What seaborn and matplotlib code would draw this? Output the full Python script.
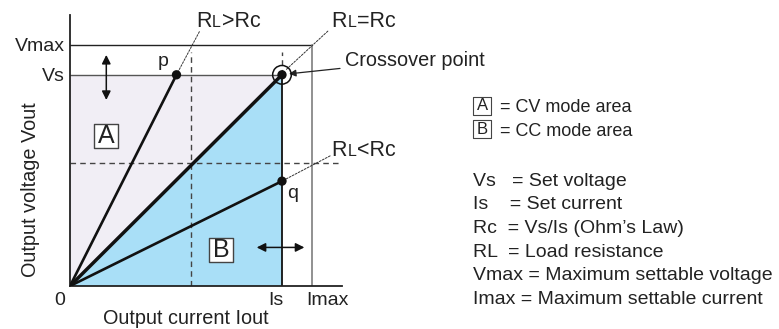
import matplotlib

matplotlib.use("Agg")
import matplotlib.pyplot as plt
import matplotlib.transforms as mtrans
import numpy as np
import pandas as pd
import seaborn as sns

# operating limits (normalised so that Imax = Vmax = 1)
i_max = 1.0
v_max = 1.0
i_set = 0.876
v_set = 0.876
i_half = 0.5
v_half = 0.51

# load lines from the origin
load_names = ["RL>Rc", "RL=Rc", "RL<Rc"]
load_end_i = [0.44, 0.876, 0.876]
load_end_v = [0.876, 0.876, 0.435]

legend_lines = [
    "Vs   = Set voltage",
    "Is    = Set current",
    "Rc  = Vs/Is (Ohm\u2019s Law)",
    "RL  = Load resistance",
    "Vmax = Maximum settable voltage",
    "Imax = Maximum settable current",
]

sns.set_theme(style="white")
plt.rcParams["font.family"] = ["Liberation Sans", "DejaVu Sans"]

TXT = "#222222"
fig = plt.figure(figsize=(7.79, 3.29), dpi=100)
ax = fig.add_axes([70 / 779, 43 / 329, 272 / 779, 271 / 329])
ax.set_xlim(0, 1.124)
ax.set_ylim(0, 1.124)

# mode areas
ax.fill([0, 0, i_set], [0, v_set, v_set], color="#f1eef5", lw=0, zorder=0)
ax.fill([0, i_set, i_set], [0, v_set, 0], color="#a9dff7", lw=0, zorder=0)

# limit lines
ax.plot([0, i_max], [v_max, v_max], color="#222222", lw=1.0)
ax.plot([i_max, i_max], [0, v_max], color="#888888", lw=1.3)
ax.plot([0, i_set], [v_set, v_set], color="#555555", lw=1.0)
ax.plot([i_set, i_set], [0, v_set], color="#111111", lw=1.3)

# dashed guides
ax.plot([i_half, i_half], [0, 0.97], color="#444444", lw=1.0, ls=(0, (4, 3)))
ax.plot([i_set, i_set], [v_set, 0.97], color="#444444", lw=1.0, ls=(0, (4, 3)))
ax.plot([0, 1.124], [v_half, v_half], color="#444444", lw=1.0, ls=(0, (4, 3)))

# load lines
rows = []
for name, ei, ev in zip(load_names, load_end_i, load_end_v):
    rows.append({"load": name, "I": 0.0, "V": 0.0})
    rows.append({"load": name, "I": ei, "V": ev})
df = pd.DataFrame(rows)
sns.lineplot(data=df, x="I", y="V", units="load", estimator=None, color="#111111",
             size="load", sizes={"RL>Rc": 1.9, "RL=Rc": 2.5, "RL<Rc": 1.9},
             legend=False, ax=ax, zorder=3)
pts = pd.DataFrame({"I": load_end_i, "V": load_end_v})
sns.scatterplot(data=pts, x="I", y="V", color="#111111", s=45, edgecolor="none",
                ax=ax, zorder=4)
ax.scatter([i_set], [v_set], s=180, facecolor="none", edgecolor="#111111",
           lw=1.1, zorder=4)

# spines / ticks
for s in ["top", "right"]:
    ax.spines[s].set_visible(False)
for s in ["left", "bottom"]:
    ax.spines[s].set_color("#222222")
    ax.spines[s].set_linewidth(1.3)
ax.set_xticks([i_set, i_max], ["Is", "Imax"])
ax.set_yticks([v_set, v_max], ["Vs", "Vmax"])
ax.tick_params(length=0, labelsize=14, pad=4, colors=TXT)
xl = ax.get_xticklabels()
xl[0].set_ha("right")
xl[0].set_transform(xl[0].get_transform() + mtrans.ScaledTranslation(2 / 100, 0, fig.dpi_scale_trans))
xl[1].set_ha("left")
xl[1].set_transform(xl[1].get_transform() + mtrans.ScaledTranslation(-6 / 100, 0, fig.dpi_scale_trans))
ax.set_xlabel("")
ax.set_ylabel("")
fig.text(186 / 779, 1 - 319 / 329, "Output current Iout", fontsize=14.3,
         ha="center", va="center", color=TXT)
fig.text(31 / 779, 1 - 190 / 329, "Output voltage Vout", fontsize=14.3,
         ha="center", va="center", rotation=90, color=TXT)
ax.text(-0.02, -0.025, "0", fontsize=14, ha="right", va="top", color=TXT)

# area boxes (square frames)
ax.scatter([0.15, 0.626], [0.622, 0.149], marker="s", s=300, facecolor="white",
           edgecolor="#444444", lw=1.0, zorder=5)
ax.text(0.15, 0.622, "A", fontsize=18, ha="center", va="center", color=TXT, zorder=6)
ax.text(0.626, 0.149, "B", fontsize=18, ha="center", va="center", color=TXT, zorder=6)

# range arrows
arr = dict(arrowstyle="<|-|>", color="#111111", lw=1.1, mutation_scale=13)
ax.annotate("", xy=(0.15, 0.76), xytext=(0.15, 0.97), arrowprops=arr)
ax.annotate("", xy=(0.76, 0.16), xytext=(0.98, 0.16), arrowprops=arr)

# point labels
ax.text(0.385, 0.93, "p", fontsize=14, ha="center", va="center", color=TXT)
ax.text(0.92, 0.385, "q", fontsize=14, ha="center", va="center", color=TXT)


def rl_label(x, y, rest):
    big, sm = 15.5, 11.5
    t = ax.text(x, y, "R", fontsize=big, ha="left", va="baseline", color=TXT)
    # the bbox bottom sits one descent below the baseline; compensate
    t2 = ax.annotate("L", xy=(1, 0), xycoords=t, xytext=(0.5, 0.212 * big),
                     textcoords="offset points", fontsize=sm, va="baseline",
                     color=TXT)
    ax.annotate(rest, xy=(1, 0), xycoords=t2, xytext=(0.5, 0.212 * sm),
                textcoords="offset points", fontsize=big, va="baseline",
                color=TXT)


thin = dict(arrowstyle="-", color="#333333", lw=0.7, ls=(0, (2, 1.5)))
rl_label(0.52, 1.075, ">Rc")
ax.annotate("", xy=(0.44, 0.876), xytext=(0.54, 1.065), arrowprops=thin)
rl_label(1.08, 1.075, "=Rc")
ax.annotate("", xy=(0.885, 0.89), xytext=(1.074, 1.065), arrowprops=thin)
rl_label(1.08, 0.54, "<Rc")
ax.annotate("", xy=(0.876, 0.435), xytext=(1.085, 0.545), arrowprops=thin)

# crossover point arrow
ax.annotate("Crossover point", xy=(0.905, 0.88), xytext=(1.135, 0.935),
            fontsize=14.3, va="center", color=TXT, annotation_clip=False,
            arrowprops=dict(arrowstyle="-|>", color="#222222", lw=0.9,
                            mutation_scale=10, shrinkB=0, shrinkA=1))

# legend block
lx = 474 / 779
ax.scatter([482.5 / 779, 482.5 / 779], [1 - 106 / 329, 1 - 129 / 329], marker="s",
           s=150, facecolor="white", edgecolor="#444444", lw=0.8,
           transform=fig.transFigure, clip_on=False, zorder=5)
fig.text(482.5 / 779, 1 - 106 / 329, "A", fontsize=12, ha="center", va="center",
         color=TXT, zorder=6)
fig.text(500 / 779, 1 - 108 / 329, "= CV mode area", fontsize=13, va="center",
         color=TXT)
fig.text(482.5 / 779, 1 - 129 / 329, "B", fontsize=12, ha="center", va="center",
         color=TXT, zorder=6)
fig.text(500 / 779, 1 - 131 / 329, "= CC mode area", fontsize=13, va="center",
         color=TXT)
for k, line in enumerate(legend_lines):
    fig.text(lx - 1 / 779, 1 - (181 + k * 23.7) / 329, line, fontsize=14,
             va="center", color=TXT)

fig.savefig("out.png", dpi=100)
